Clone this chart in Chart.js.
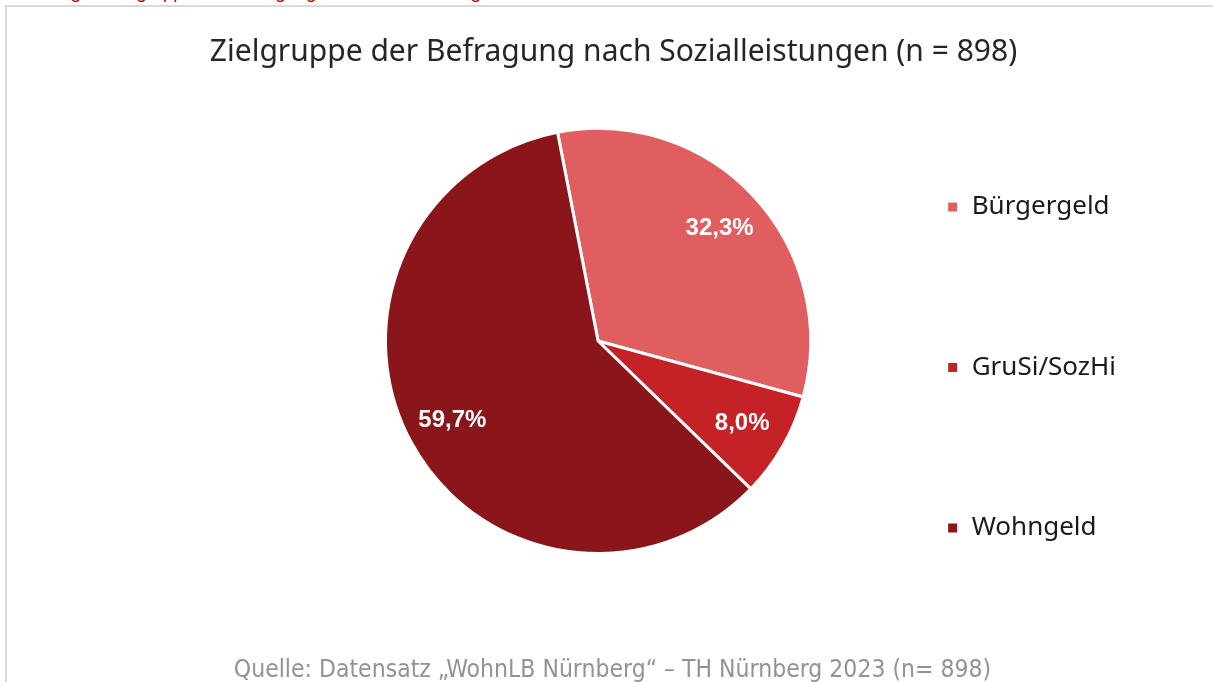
<!DOCTYPE html>
<html>
<head>
<meta charset="utf-8">
<script src="https://cdn.jsdelivr.net/npm/chart.js@4"></script>
<style>
  body { margin: 0; background: #fff; overflow: hidden; }
  #caption { position: absolute; left: 0; top: -19px; font: italic 18.5px "Liberation Sans", sans-serif; color: #c00000; white-space: nowrap; }
  #frame { position: absolute; left: 5px; top: 5px; width: 1230px; height: 700px; border: 2px solid #d9d9d9; }
  #wrap { position: absolute; left: 0; top: 0; width: 1213px; height: 682px; }
  #titel { position: absolute; left: 0; width: 1227px; top: 29px; text-align: center; font: 30px "Noto Sans", sans-serif; color: #262626; white-space: nowrap; }
  #quelle { position: absolute; left: 0; width: 1225px; top: 654px; text-align: center; font: 24.5px "Liberation Sans Narrow", "DejaVu Sans Condensed", sans-serif; color: #939393; white-space: nowrap; }
</style>
</head>
<body>
<div id="caption">Abbildung 1: Zielgruppe der Befragung nach Sozialleistungen</div>
<div id="frame"></div>
<div id="wrap"><canvas id="c"></canvas></div>
<div id="titel"></div>
<div id="quelle"></div>
<script>
// ── DATEN ──────────────────────────────
const labels = ['Bürgergeld', 'GruSi/SozHi', 'Wohngeld'];
const anteile = [32.3, 8.0, 59.7];
const farben = ['#E05E60', '#C42227', '#8A161B'];

const titel = 'Zielgruppe der Befragung nach Sozialleistungen (n = 898)';
const quelle = 'Quelle: Datensatz \u201EWohnLB Nürnberg\u201C \u2013 TH Nürnberg 2023 (n= 898)';

document.getElementById('titel').textContent = titel;
document.getElementById('quelle').textContent = quelle;

const fmtPct = v => v.toFixed(1).replace('.', ',') + '%';

// Prozentwerte in die Segmente schreiben
const segmentLabels = {
  id: 'segmentLabels',
  afterDatasetsDraw(chart) {
    const ctx = chart.ctx;
    const meta = chart.getDatasetMeta(0);
    ctx.save();
    ctx.fillStyle = '#fff';
    ctx.font = 'bold 24px "Liberation Sans", Arial, sans-serif';
    ctx.textAlign = 'center';
    ctx.textBaseline = 'middle';
    meta.data.forEach((arc, i) => {
      const mid = (arc.startAngle + arc.endAngle) / 2;
      const r = arc.outerRadius * 0.78;
      ctx.fillText(fmtPct(anteile[i]), arc.x + Math.cos(mid) * r, arc.y + Math.sin(mid) * r);
    });
    ctx.restore();
  }
};

// Breite der Zeichenfläche begrenzt den Radius, Legende nutzt volle Höhe
new Chart(document.getElementById('c'), {
  type: 'pie',
  data: {
    labels: labels,
    datasets: [{
      data: anteile,
      backgroundColor: farben,
      borderColor: '#fff',
      borderWidth: 3
    }]
  },
  options: {
    responsive: true,
    maintainAspectRatio: false,
    animation: false,
    rotation: -11,
    layout: { padding: { left: 384, right: 87, top: 0, bottom: 0 } },
    plugins: {
      legend: {
        position: 'right',
        title: { display: true, text: ' ', font: { size: 10 }, padding: { top: 20.5, bottom: 20.5 } },
        labels: {
          color: '#1a1a1a',
          font: { family: '"Noto Sans", sans-serif', size: 26 },
          boxWidth: 12,
          boxHeight: 12,
          padding: 134.5
        }
      },
      tooltip: { enabled: false }
    }
  },
  plugins: [segmentLabels]
});
</script>
</body>
</html>
